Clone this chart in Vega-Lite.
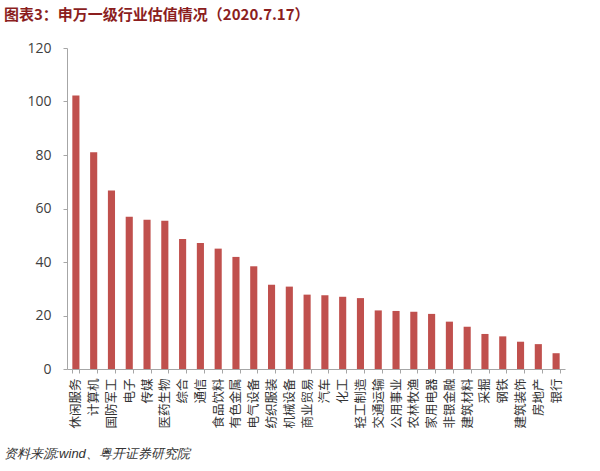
{
  "$schema": "https://vega.github.io/schema/vega-lite/v6.json",
  "autosize": "none",
  "width": 498,
  "height": 321,
  "padding": {"left": 67, "top": 48, "right": 35, "bottom": 102},
  "background": "white",
  "config": {"view": {"stroke": null}, "font": "Noto Sans CJK SC"},
  "title": {
    "text": "图表3：申万一级行业估值情况（2020.7.17）",
    "anchor": "start",
    "frame": "group",
    "dx": -63,
    "offset": 18,
    "fontSize": 15,
    "fontWeight": "bold",
    "color": "#8B1E1E",
    "font": "Noto Sans CJK SC"
  },
  "data": {
    "values": [
      {"industry": "休闲服务", "pe": 102.2},
      {"industry": "计算机", "pe": 81.0},
      {"industry": "国防军工", "pe": 66.7},
      {"industry": "电子", "pe": 56.9},
      {"industry": "传媒", "pe": 55.8},
      {"industry": "医药生物", "pe": 55.4},
      {"industry": "综合", "pe": 48.6},
      {"industry": "通信", "pe": 47.1},
      {"industry": "食品饮料", "pe": 45.0},
      {"industry": "有色金属", "pe": 41.9},
      {"industry": "电气设备", "pe": 38.4},
      {"industry": "纺织服装", "pe": 31.5},
      {"industry": "机械设备", "pe": 30.8},
      {"industry": "商业贸易", "pe": 27.8},
      {"industry": "汽车", "pe": 27.6},
      {"industry": "化工", "pe": 27.0},
      {"industry": "轻工制造", "pe": 26.5},
      {"industry": "交通运输", "pe": 21.9},
      {"industry": "公用事业", "pe": 21.7},
      {"industry": "农林牧渔", "pe": 21.4},
      {"industry": "家用电器", "pe": 20.6},
      {"industry": "非银金融", "pe": 17.7},
      {"industry": "建筑材料", "pe": 15.8},
      {"industry": "采掘", "pe": 13.1},
      {"industry": "钢铁", "pe": 12.2},
      {"industry": "建筑装饰", "pe": 10.2},
      {"industry": "房地产", "pe": 9.3},
      {"industry": "银行", "pe": 5.9}
    ]
  },
  "mark": {"type": "bar", "color": "#C0504D"},
  "encoding": {
    "x": {
      "field": "industry",
      "type": "nominal",
      "sort": null,
      "scale": {"paddingInner": 0.6, "paddingOuter": 0.3},
      "axis": {
        "title": "资料来源:wind、粤开证券研究院",
        "titleAnchor": "start",
        "titleAlign": "left",
        "titleX": -64,
        "titleY": 78,
        "titleFontSize": 13,
        "titleFontWeight": "normal",
        "titleFontStyle": "italic",
        "titleColor": "#333333",
        "titleFont": "Liberation Sans",
        "labelAngle": -90,
        "labelAlign": "right",
        "labelBaseline": "middle",
        "labelFontSize": 12.5,
        "labelColor": "#333333",
        "labelPadding": 5,
        "labelOverlap": false,
        "domainColor": "#A6A6A6",
        "tickColor": "#A6A6A6",
        "tickSize": 4,
        "tickBand": "extent"
      }
    },
    "y": {
      "field": "pe",
      "type": "quantitative",
      "scale": {"domain": [0, 120]},
      "axis": {
        "title": null,
        "values": [0, 20, 40, 60, 80, 100, 120],
        "grid": false,
        "labelFontSize": 14,
        "labelColor": "#404040",
        "labelFont": "Open Sans",
        "labelPadding": 12,
        "domainColor": "#A6A6A6",
        "tickColor": "#A6A6A6",
        "tickSize": 4
      }
    }
  }
}
